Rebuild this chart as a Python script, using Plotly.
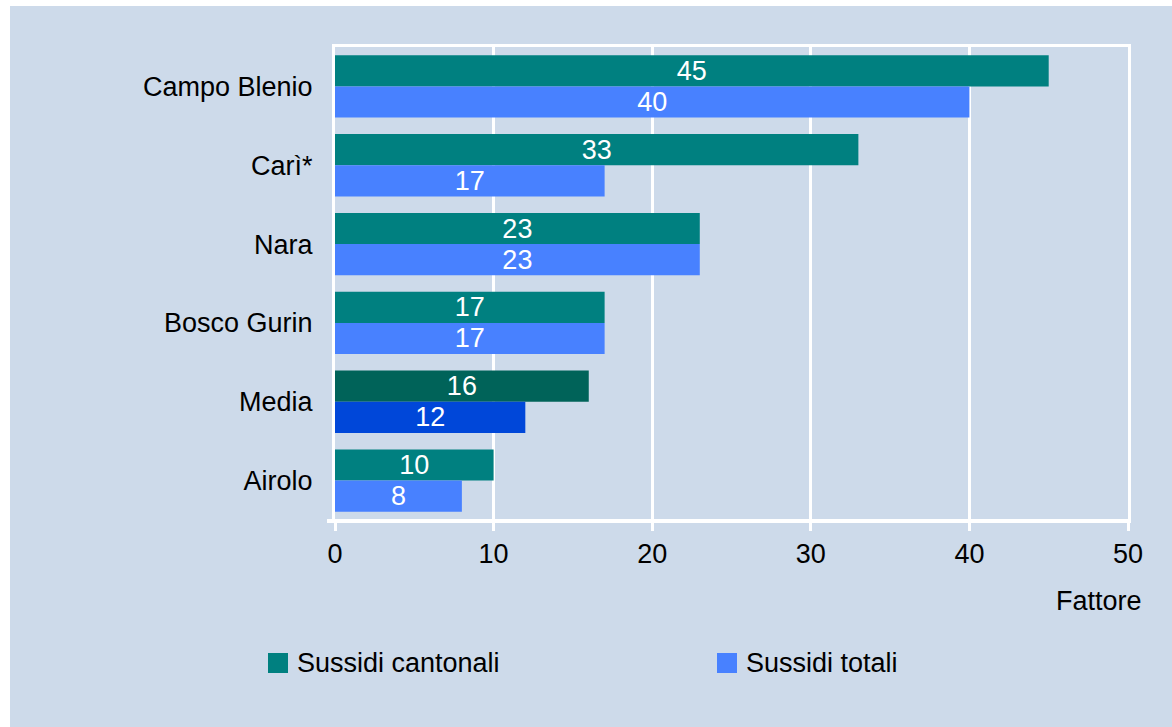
import plotly.graph_objects as go

# Data
communes = ["Campo Blenio", "Carì*", "Nara", "Bosco Gurin", "Media", "Airolo"]
sussidi_cantonali = [45, 33, 23, 17, 16, 10]
sussidi_totali = [40, 17, 23, 17, 12, 8]
series_names = ["Sussidi cantonali", "Sussidi totali"]
x_ticks = [0, 10, 20, 30, 40, 50]
axis_label = "Fattore"

# Styling
FONT = "Liberation Sans, Arial, Helvetica, sans-serif"
TEAL, TEAL_DARK = "#008080", "#006359"
BLUE, BLUE_DARK = "#4881ff", "#0047d9"
PANEL = "#cddaea"

W, H = 1172, 727
L, R, T, B = 335, 44, 47, 207
PW, PH = W - L - R, H - T - B


def px_x(p):
    return (p - L) / PW


def px_y(p):
    return (H - B - p) / PH


def colors_for(base, dark):
    return [dark if c == "Media" else base for c in communes]


fig = go.Figure()
for vals, name, base, dark in [
    (sussidi_cantonali, series_names[0], TEAL, TEAL_DARK),
    (sussidi_totali, series_names[1], BLUE, BLUE_DARK),
]:
    fig.add_trace(go.Bar(
        y=communes, x=vals, orientation="h", name=name,
        marker=dict(color=colors_for(base, dark), line=dict(width=0)),
        text=vals, textposition="inside", insidetextanchor="middle", textangle=0,
        constraintext="none", cliponaxis=False,
        textfont=dict(color="white", size=27, family=FONT), showlegend=False,
    ))

shapes = [
    # background panel
    dict(type="rect", xref="paper", yref="paper", layer="below",
         x0=px_x(10), x1=px_x(W + 5), y0=px_y(H + 5), y1=px_y(6),
         fillcolor=PANEL, line=dict(width=0)),
    # baseline of the value axis, extended slightly to the left
    dict(type="line", xref="paper", yref="paper", layer="above",
         x0=px_x(327), x1=1, y0=px_y(521), y1=px_y(521),
         line=dict(color="white", width=4)),
]

annotations = [
    dict(text=axis_label, xref="paper", yref="paper", x=px_x(1144), y=px_y(601),
         xanchor="right", yanchor="middle", showarrow=False,
         font=dict(size=27, color="black", family=FONT)),
]

# Legend drawn as swatches + labels
legend_items = [(series_names[0], TEAL, 268), (series_names[1], BLUE, 717)]
for name, col, x0 in legend_items:
    shapes.append(dict(type="rect", xref="paper", yref="paper",
                       x0=px_x(x0), x1=px_x(x0 + 20), y0=px_y(673), y1=px_y(653),
                       fillcolor=col, line=dict(width=0)))
    annotations.append(dict(text=name, xref="paper", yref="paper",
                            x=px_x(x0 + 27), y=px_y(663), xanchor="left", yanchor="middle",
                            showarrow=False, font=dict(size=27, color="black", family=FONT)))

fig.update_layout(
    width=W, height=H,
    margin=dict(l=L, r=R, t=T, b=B, pad=0),
    paper_bgcolor="white", plot_bgcolor="rgba(0,0,0,0)",
    barmode="group", bargap=0.21, bargroupgap=0,
    font=dict(family=FONT, size=27, color="black"),
    uniformtext=dict(minsize=27, mode="show"),
    shapes=shapes, annotations=annotations,
    showlegend=False,
)
fig.update_xaxes(
    range=[0, 50], tickvals=x_ticks, ticktext=[str(v) for v in x_ticks],
    showgrid=True, gridcolor="white", gridwidth=3,
    showline=True, linecolor="white", linewidth=3, mirror=True,
    ticks="outside", ticklen=8, tickwidth=3, tickcolor="white",
    tickfont=dict(size=27, color="black", family=FONT),
    zeroline=False, fixedrange=True,
)
fig.update_yaxes(
    autorange="reversed", showgrid=False,
    showline=True, linecolor="white", linewidth=3, mirror=True,
    ticks="", ticklabelstandoff=14,
    tickfont=dict(size=27, color="black", family=FONT),
    fixedrange=True,
)

fig.write_html("out.html")
